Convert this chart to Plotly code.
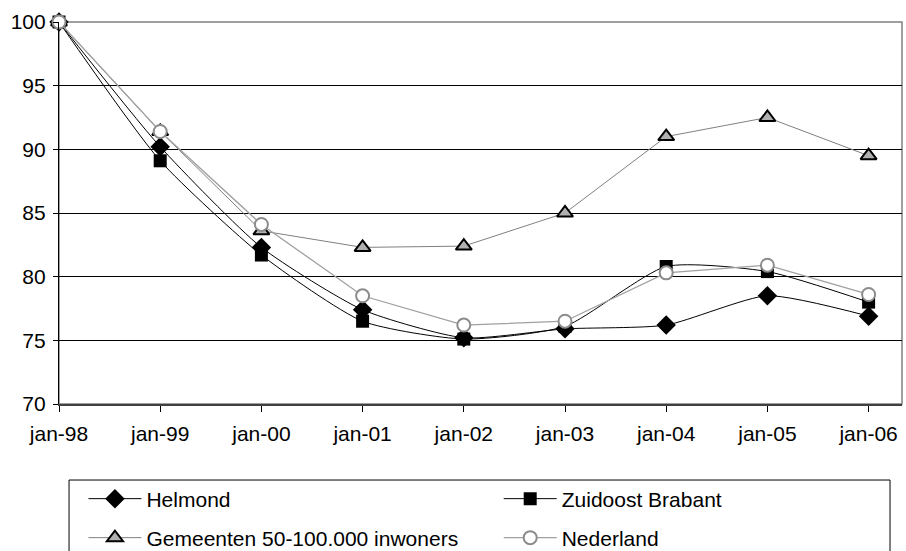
import plotly.graph_objects as go

categories = ["jan-98", "jan-99", "jan-00", "jan-01", "jan-02", "jan-03", "jan-04", "jan-05", "jan-06"]
helmond = [100, 90.2, 82.3, 77.4, 75.2, 75.9, 76.2, 78.5, 76.9]
zuidoost = [100, 89.1, 81.7, 76.5, 75.1, 76.1, 80.8, 80.4, 78.0]
gemeenten = [100, 91.4, 83.6, 82.3, 82.4, 85.0, 91.0, 92.5, 89.5]
nederland = [100, 91.4, 84.1, 78.5, 76.2, 76.5, 80.3, 80.9, 78.6]
y_ticks = [70, 75, 80, 85, 90, 95, 100]

x = list(range(len(categories)))
font = "Liberation Sans, Arial, sans-serif"
fsize = 21

fig = go.Figure()
fig.add_trace(go.Scatter(
    x=x, y=helmond, name="Helmond", mode="lines+markers", legend="legend",
    cliponaxis=False,
    line=dict(color="black", width=1, shape="spline", smoothing=0.6),
    marker=dict(symbol="diamond", size=15, color="black", line=dict(width=0))))
fig.add_trace(go.Scatter(
    x=x, y=zuidoost, name="Zuidoost Brabant", mode="lines+markers", legend="legend2",
    cliponaxis=False,
    line=dict(color="black", width=1, shape="spline", smoothing=0.6),
    marker=dict(symbol="square", size=13, color="black", line=dict(width=0))))
fig.add_trace(go.Scatter(
    x=x, y=gemeenten, name="Gemeenten 50-100.000 inwoners", mode="lines+markers", legend="legend3",
    cliponaxis=False,
    line=dict(color="#808080", width=1),
    marker=dict(symbol="triangle-up", size=14, color="#b0b0b0", line=dict(width=2, color="black"))))
fig.add_trace(go.Scatter(
    x=x, y=nederland, name="Nederland", mode="lines+markers", legend="legend4",
    cliponaxis=False,
    line=dict(color="#a0a0a0", width=1.3),
    marker=dict(symbol="circle", size=13, color="white", line=dict(width=2, color="#8c8c8c"))))

def leg(xp, yp):
    return dict(orientation="h", x=xp, y=yp, xanchor="left", yanchor="middle",
                borderwidth=0, bgcolor="rgba(0,0,0,0)", itemwidth=53,
                font=dict(family=font, size=fsize, color="black"))

col1 = 0.029
col2 = 0.5216
row1 = -0.2487
row2 = -0.3508

fig.update_layout(
    width=906, height=551,
    margin=dict(l=59, r=4, t=22, b=147, autoexpand=False),
    paper_bgcolor="white", plot_bgcolor="white",
    font=dict(family=font, size=fsize, color="black"),
    showlegend=True,
    legend=leg(col1, row1),
    legend2=leg(col2, row1),
    legend3=leg(col1, row2),
    legend4=leg(col2, row2),
    shapes=[
        dict(type="rect", xref="paper", yref="paper", x0=0, x1=1, y0=0, y1=1,
             line=dict(color="#808080", width=1.5), layer="below"),
        dict(type="rect", xref="paper", yref="paper", x0=0.0119, x1=0.9858, y0=-0.199, y1=-0.6,
             line=dict(color="black", width=1), layer="below"),
    ],
)
fig.update_xaxes(
    range=[0, 8.33], tickvals=x, ticktext=categories, automargin=False,
    showgrid=False, showline=True, linecolor="#404040", linewidth=1.5,
    ticks="outside", ticklen=6, tickcolor="black", zeroline=False,
    ticklabelstandoff=4,
    tickfont=dict(family=font, size=fsize, color="black"))
fig.update_yaxes(
    range=[70, 100], tickvals=y_ticks, automargin=False,
    showgrid=True, gridcolor="black", gridwidth=1,
    showline=True, linecolor="black", linewidth=1.2,
    ticks="outside", ticklen=5, tickcolor="black", zeroline=False,
    ticklabelstandoff=3,
    tickfont=dict(family=font, size=fsize, color="black"))

fig.write_html("out.html", config={"displayModeBar": False},
               post_script="document.body.style.margin='0';document.body.style.overflow='hidden';")
